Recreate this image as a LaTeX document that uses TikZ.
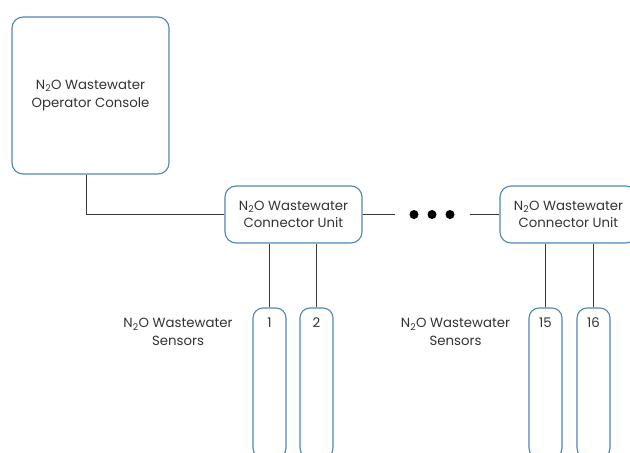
\documentclass[tikz,border=0pt]{standalone}
\usepackage{fontspec}
\setmainfont{Poppins}
\definecolor{boxblue}{HTML}{4F86B8}
\definecolor{wire}{HTML}{3A3A3A}
\definecolor{ink}{HTML}{333333}
\newcommand{\nto}{N\textsubscript{2}O}
\tikzset{
  x=1pt, y=-1pt,
  txt/.style={text=ink, font=\fontsize{13.3}{17.5}\selectfont, align=center},
  unitbox/.style={txt, draw=boxblue, line width=1.1pt, rounded corners=11pt, fill=white},
  sensorbox/.style={draw=boxblue, line width=1.1pt, rounded corners=10pt,
    minimum width=33pt, minimum height=150pt, inner sep=0pt},
  link/.style={draw=wire, line width=0.8pt},
  dotmark/.style={circle, fill=black, inner sep=0pt, minimum size=9pt},
}
\begin{document}
\begin{tikzpicture}
\useasboundingbox (0,0) rectangle (630,453);
\clip (0,0) rectangle (630,453);

% console and connector units
\node[unitbox, minimum width=157pt, minimum height=157pt] (console) at (90.5,95.5)
  {\nto{} Wastewater\\Operator Console};
\node[unitbox, minimum width=137pt, minimum height=57pt, inner sep=0pt] (unitA) at (293.5,214.5)
  {\nto{} Wastewater\\Connector Unit};
\node[unitbox, minimum width=137pt, minimum height=57pt, inner sep=0pt] (unitB) at (568.5,214.5)
  {\nto{} Wastewater\\Connector Unit};

% sensors
\foreach \nm/\xx/\lab in {s1/269.5/1, s2/316.5/2, s15/545.5/15, s16/593.5/16}{
  \node[sensorbox, label={[txt, anchor=north, yshift=-7pt]north:\lab}] (\nm) at (\xx,383) {};
}

% sensor group captions
\node[txt] (capA) at (178,332) {\nto{} Wastewater\\Sensors};
\node[txt] (capB) at (455.5,332) {\nto{} Wastewater\\Sensors};

% ellipsis between units
\node[dotmark] (d1) at (414,214.5) {};
\node[dotmark] (d2) at (432,214.5) {};
\node[dotmark] (d3) at (450,214.5) {};
\coordinate (gapL) at (395,214.5);
\coordinate (gapR) at (470,214.5);

% wiring
\draw[link] ([xshift=-4.5pt]console.south) |- (unitA.west);
\draw[link] (unitA.east) -- (gapL);
\draw[link] (gapR) -- (unitB.west);
\foreach \u/\s in {unitA/s1, unitA/s2, unitB/s15, unitB/s16}{
  \draw[link] (\s.north) -- (\s.north |- \u.south);
}
\end{tikzpicture}
\end{document}
